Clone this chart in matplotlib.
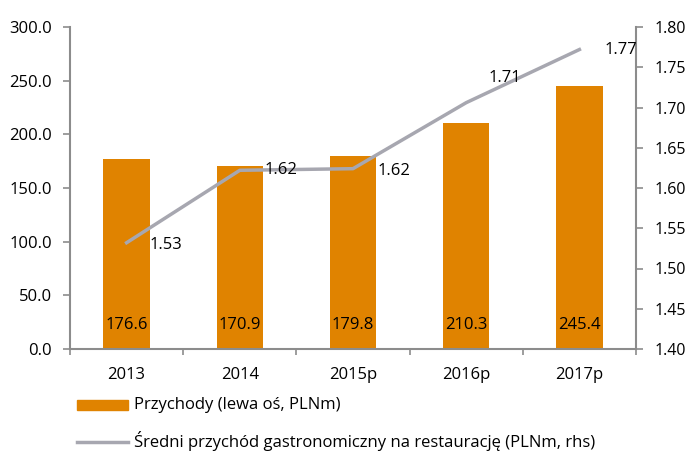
import matplotlib.pyplot as plt
from matplotlib.ticker import FormatStrFormatter, MultipleLocator, FixedLocator
from matplotlib.patches import Rectangle
from matplotlib.lines import Line2D

plt.rcParams['font.family'] = ['Open Sans', 'DejaVu Sans']

years = ['2013', '2014', '2015p', '2016p', '2017p']
revenue = [176.6, 170.9, 179.8, 210.3, 245.4]
avg_rev = [1.532, 1.622, 1.624, 1.706, 1.772]
avg_labels = ['1.53', '1.62', '1.62', '1.71', '1.77']

bar_color = '#E08300'
line_color = '#A7A7B0'
spine_color = '#8C8C8C'
fs = 12

fig = plt.figure(figsize=(6.89, 4.51), dpi=100)
ax = fig.add_axes([70/689, 1-349/451, 566/689, 322/451])
x = list(range(len(years)))
ax.bar(x, revenue, width=0.41, color=bar_color, zorder=2)
ax.set_xlim(-0.5, 4.5)
ax.set_ylim(0, 300)
ax.yaxis.set_major_locator(MultipleLocator(50))
ax.yaxis.set_major_formatter(FormatStrFormatter('%.1f'))
ax.set_xticks(x)
ax.set_xticklabels(years)
ax.xaxis.set_minor_locator(FixedLocator([i + 0.5 for i in range(-1, len(years))]))
for i, v in enumerate(revenue):
    ax.text(i, 22, f'{v:.1f}', ha='center', va='center', fontsize=fs, zorder=3)

for s in ['top', 'right']:
    ax.spines[s].set_visible(False)
ax.spines['left'].set_color(spine_color)
ax.spines['bottom'].set_color(spine_color)
ax.spines['left'].set_linewidth(1.5)
ax.spines['bottom'].set_linewidth(1.5)
ax.tick_params(axis='y', colors=spine_color, labelcolor='black', labelsize=fs, length=5, width=1.2, pad=8)
ax.tick_params(axis='x', which='major', length=0, labelsize=fs, pad=13)
ax.tick_params(axis='x', which='minor', length=4, width=1.2, color=spine_color)

ax2 = ax.twinx()
ax2.plot(x, avg_rev, color=line_color, lw=2.5, zorder=3)
ax2.set_ylim(1.40, 1.80)
ax2.yaxis.set_major_locator(MultipleLocator(0.05))
ax2.yaxis.set_major_formatter(FormatStrFormatter('%.2f'))
for s in ['top', 'left', 'bottom']:
    ax2.spines[s].set_visible(False)
ax2.spines['right'].set_color(spine_color)
ax2.spines['right'].set_linewidth(1.5)
ax2.tick_params(axis='y', colors=spine_color, labelcolor='black', labelsize=11.5, length=5, width=1.2, pad=8)

offsets = [(0.2, -0.003), (0.22, 0.0), (0.22, -0.003), (0.2, 0.031), (0.22, -0.001)]
for i, (v, lab) in enumerate(zip(avg_rev, avg_labels)):
    dx, dy = offsets[i]
    ax2.text(i + dx, v + dy, lab, ha='left', va='center', fontsize=fs, zorder=4)

# legend
fig.patches.append(Rectangle((77/689, 1-410/451), 51/689, 10/451, transform=fig.transFigure, color=bar_color))
fig.text(134/689, 1-405/451, 'Przychody (lewa oś, PLNm)', fontsize=fs, va='center', ha='left')
fig.lines.append(Line2D([77/689, 128/689], [1-442/451, 1-442/451], transform=fig.transFigure, color=line_color, lw=2.5))
fig.text(134/689, 1-441/451, 'Średni przychód gastronomiczny na restaurację (PLNm, rhs)', fontsize=fs, va='center', ha='left')

fig.savefig('out.png', dpi=100)
